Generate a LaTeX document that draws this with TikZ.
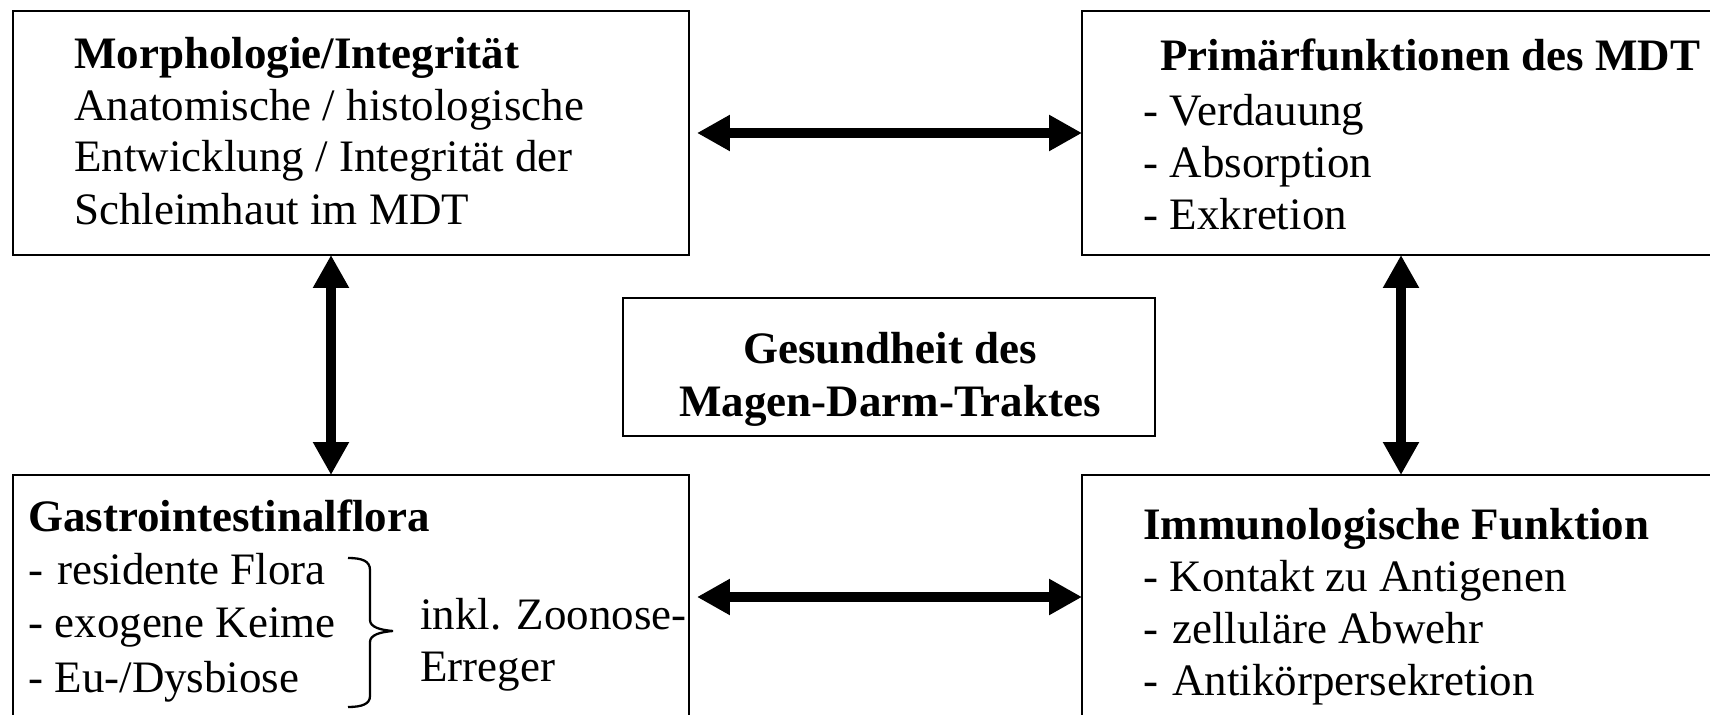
\documentclass[tikz,border=0pt]{standalone}
\usepackage{fontspec}
\setmainfont{Liberation Serif}
\usetikzlibrary{arrows.meta}

\tikzset{
  box/.style={draw, line width=1.4pt, inner sep=0pt, outer sep=0pt},
  txt/.style={anchor=base west, inner sep=0pt, font=\fontsize{25.6pt}{30pt}\selectfont},
  ttl/.style={txt, font=\fontsize{25.6pt}{30pt}\selectfont\bfseries},
  dbl/.style={line width=6.2pt, {Triangle[length=0.66cm,width=0.68cm]}-{Triangle[length=0.66cm,width=0.68cm]}},
  brk/.style={line width=1.3pt}
}

\begin{document}
\begin{tikzpicture}[x=0.02cm,y=-0.02cm]
\useasboundingbox (0,0) rectangle (1710,715);

% boxes
\node[box, minimum width=13.52cm, minimum height=4.88cm] (morph) at (351,133) {};
\node[box, minimum width=13.52cm, minimum height=4.88cm] (prim) at (1420,133) {};
\node[box, minimum width=13.52cm, minimum height=4.88cm] (gastro) at (351,597) {};
\node[box, minimum width=13.52cm, minimum height=4.88cm] (immun) at (1420,597) {};
\node[box, minimum width=10.64cm, minimum height=2.76cm] (health) at (889,367) {};

% Morphologie
\node[ttl] (morphT) at (74,69) {Morphologie/Integrität};
\node[txt] (morph1) at (74,121) {Anatomische / histologische};
\node[txt] (morph2) at (74,172) {Entwicklung / Integrität der};
\node[txt] (morph3) at (74,225) {Schleimhaut im MDT};

% Primaerfunktionen
\node[ttl] (primT) at (1160,71) {Primärfunktionen des MDT};
\node[txt] (prim1) at (1143,126) {- Verdauung};
\node[txt] (prim2) at (1143,178) {- Absorption};
\node[txt] (prim3) at (1143,230) {- Exkretion};

% Gesundheit
\node[ttl, anchor=base] (healthA) at (890,364) {Gesundheit des};
\node[ttl, anchor=base] (healthB) at (890,417) {Magen-Darm-Traktes};

% Gastrointestinalflora
\node[ttl] (gastroT) at (28,532) {Gastrointestinalflora};
\node[txt] (gastro1) at (28,584) {- \hspace{0.06em}residente Flora};
\node[txt] (gastro2) at (28,638) {- exogene Keime};
\node[txt] (gastro3) at (28,692) {- Eu-/Dysbiose};
\node[txt] (zoo1) at (420,629) {inkl. Zoonose-};
\node[txt] (zoo2) at (420,681) {Erreger};
\draw[brk] (348,558) .. controls (362,558) and (370,561) .. (370,570) -- (370,620)
  .. controls (370,627) and (380,630) .. (393,631)
  .. controls (380,632) and (370,635) .. (370,642) -- (370,696)
  .. controls (370,704) and (362,707) .. (348,707);

% Immunologische Funktion
\node[ttl] (immunT) at (1143,540) {Immunologische Funktion};
\node[txt] (immun1) at (1143,592) {- Kontakt zu Antigenen};
\node[txt] (immun2) at (1143,643) {- \hspace{0.06em}zelluläre Abwehr};
\node[txt] (immun3) at (1143,695) {- \hspace{0.06em}Antikörpersekretion};

% arrows
\coordinate (lx) at (331,0);
\coordinate (rx) at (1401,0);
\draw[dbl, shorten <=0.16cm] (morph) -- (prim);
\draw[dbl, shorten <=0.16cm] (gastro) -- (immun);
\draw[dbl] (morph.south -| lx) -- (gastro.north -| lx);
\draw[dbl] (prim.south -| rx) -- (immun.north -| rx);
\end{tikzpicture}
\end{document}
